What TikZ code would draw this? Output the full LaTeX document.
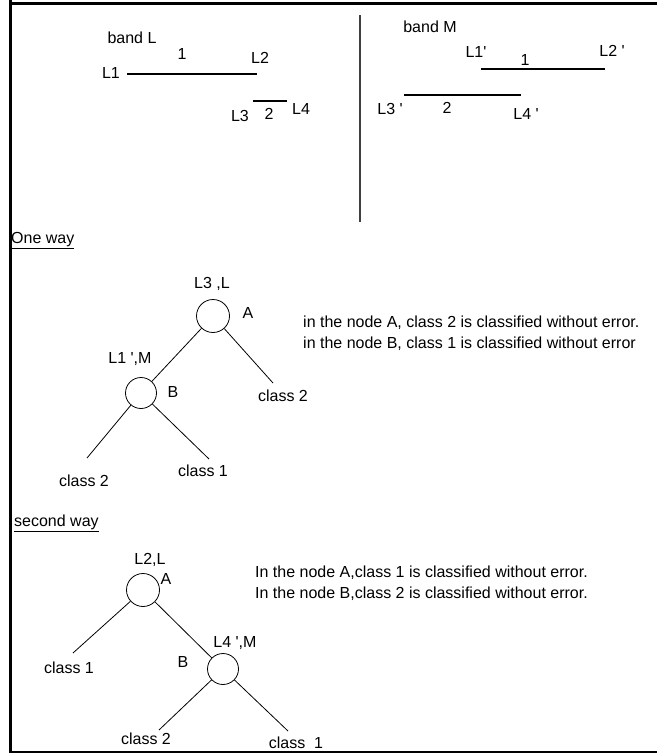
\documentclass[tikz,border=0pt]{standalone}
\usepackage{fontspec}
\setmainfont{Liberation Sans}
\newcommand{\tick}{\textquotesingle}
\begin{document}
\begin{tikzpicture}[x=1pt,y=-1pt,
  txt/.style={inner sep=0pt, font=\fontsize{16}{19}\selectfont},
  dnode/.style={circle, draw, minimum size=#1, inner sep=0pt, line width=0.8pt},
  branch/.style={line width=0.8pt},
  segment/.style={line width=1.4pt},
  frame/.style={line width=3pt}]
\useasboundingbox (0,0) rectangle (657,753);

% outer frame (top, left, bottom)
\draw[frame] (9,3) -- (657,3);
\draw[frame] (10.5,0) -- (10.5,753);
\draw[line width=2pt] (9,751.7) -- (657,751.7);

% ---------------- band L ----------------
\node[txt] (bandL) at (132,38) {band L};
\node[txt] (l1) at (111,73) {L1};
\node[txt] (l2) at (260,58) {L2};
\node[txt] (one) at (182,54) {1};
\coordinate (s1a) at (127,74);
\coordinate (s1b) at (257,74);
\draw[segment] (s1a) -- (s1b);
\node[txt] (l3) at (240,116) {L3};
\node[txt] (two) at (269,114) {2};
\node[txt] (l4) at (301,109) {L4};
\coordinate (s2a) at (253,101);
\coordinate (s2b) at (287,101);
\draw[segment] (s2a) -- (s2b);

% divider
\coordinate (da) at (360,15);
\coordinate (db) at (360,222);
\draw[line width=2pt, black!75] (da) -- (db);

% ---------------- band M ----------------
\node[txt] (bandM) at (430,27) {band M};
\node[txt] (m1) at (476,52) {L1\tick};
\node[txt] (mone) at (525,60) {1};
\node[txt] (m2) at (612,51) {L2 \tick};
\coordinate (t1a) at (481,69);
\coordinate (t1b) at (605,69);
\draw[segment] (t1a) -- (t1b);
\node[txt] (m3) at (390,109) {L3 \tick};
\node[txt] (mtwo) at (447,108) {2};
\node[txt] (m4) at (526,114) {L4 \tick};
\coordinate (t2a) at (404,95);
\coordinate (t2b) at (521,95);
\draw[segment] (t2a) -- (t2b);

% ---------------- one way ----------------
\node[txt, anchor=west] (way1) at (11,241) {\underline{One way}};

\node[dnode=33pt] (A1) at (213,316) {};
\node[dnode=31pt] (B1) at (141,393) {};
\node[txt] (A1lab) at (212,284) {L3 ,L};
\node[txt] (A1name) at (248,313) {A};
\node[txt] (B1lab) at (130,359) {L1 \tick,M};
\node[txt] (B1name) at (173,392) {B};

\coordinate (e11) at (273,383);
\coordinate (e12) at (87,458);
\coordinate (e13) at (209,459);
\node[txt] (c11) at (283,396) {class 2};
\node[txt] (c12) at (84,481) {class 2};
\node[txt] (c13) at (203,471) {class 1};

\draw[branch] (A1) -- (B1);
\draw[branch] (A1) -- (e11);
\draw[branch] (B1) -- (e12);
\draw[branch] (B1) -- (e13);

\node[txt, anchor=west] (note11) at (303,323) {in the node A, class 2 is classified without error.};
\node[txt, anchor=west] (note12) at (303,344) {in the node B, class 1 is classified without error};

% ---------------- second way ----------------
\node[txt, anchor=west] (way2) at (14,523) {\underline{second way}};

\node[dnode=33pt] (A2) at (143,590) {};
\node[dnode=31pt] (B2) at (223,669) {};
\node[txt] (A2lab) at (150,560) {L2,L};
\node[txt] (A2name) at (166,579) {A};
\node[txt] (B2lab) at (235,643) {L4 \tick,M};
\node[txt] (B2name) at (183,662) {B};

\coordinate (e21) at (73,653);
\coordinate (e22) at (159,730);
\coordinate (e23) at (288,731);
\node[txt] (c21) at (69,668) {class 1};
\node[txt] (c22) at (146,739) {class 2};
\node[txt] (c23) at (296,743) {class\ \ 1};

\draw[branch] (A2) -- (B2);
\draw[branch] (A2) -- (e21);
\draw[branch] (B2) -- (e22);
\draw[branch] (B2) -- (e23);

\node[txt, anchor=west] (note21) at (255,573) {In the node A,class 1 is classified without error.};
\node[txt, anchor=west] (note22) at (255,594) {In the node B,class 2 is classified without error.};
\end{tikzpicture}
\end{document}
